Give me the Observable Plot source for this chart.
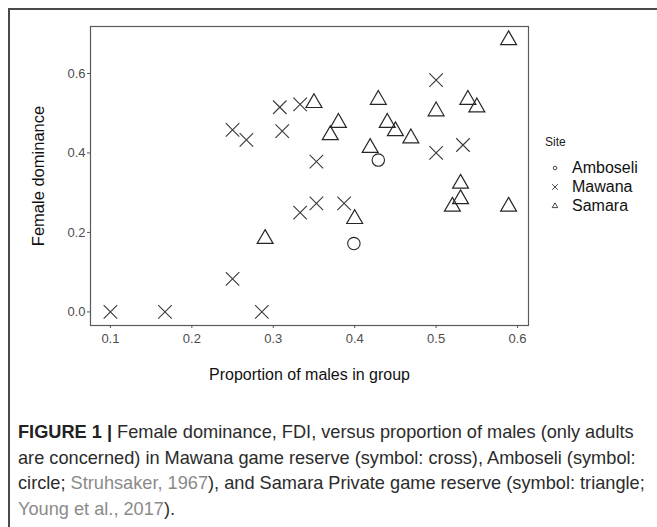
<!DOCTYPE html>
<html><head><meta charset="utf-8">
<script src="https://cdn.jsdelivr.net/npm/d3@7"></script>
<script src="https://cdn.jsdelivr.net/npm/@observablehq/plot@0.6"></script>
<style>
body{margin:0;background:#fff;font-family:"Liberation Sans",Arial,sans-serif;}
#frame{position:absolute;left:8px;top:8px;width:720px;height:600px;border-left:2px solid #4a4a4a;border-top:2px solid #4a4a4a;box-sizing:border-box;}
#chart{position:absolute;left:0;top:0;}
#legend{position:absolute;left:545px;top:135px;font-family:Arial,"Liberation Sans",sans-serif;}
#legend .title{font-size:12px;color:#222;margin-bottom:9px;}
#legend .item{display:flex;align-items:center;height:19px;font-size:16px;color:#111;}
#legend svg{margin-left:5px;margin-right:12px;}
#caption{position:absolute;left:18px;top:420px;font-size:18.2px;line-height:25.5px;color:#2b2b2b;white-space:nowrap;font-family:"Liberation Sans",Arial,sans-serif;}
#caption b{color:#222;}
#caption .ref{color:#8a8a8a;}
</style>
</head><body>
<div id="frame"></div>
<div id="chart"></div>
<div id="legend"></div>
<div id="caption"></div>
<script>
// Data
const mawanaX = [0.100, 0.167, 0.286, 0.250, 0.250, 0.267, 0.308, 0.311, 0.333, 0.353, 0.333, 0.353, 0.387, 0.500, 0.500, 0.533];
const mawanaY = [0.000, 0.000, 0.000, 0.083, 0.458, 0.433, 0.515, 0.455, 0.522, 0.378, 0.250, 0.273, 0.273, 0.583, 0.400, 0.420];
const amboseliX = [0.429, 0.399];
const amboseliY = [0.382, 0.172];
const samaraX = [0.350, 0.370, 0.380, 0.429, 0.440, 0.450, 0.469, 0.419, 0.500, 0.539, 0.550, 0.589, 0.530, 0.530, 0.520, 0.589, 0.400, 0.290];
const samaraY = [0.526, 0.445, 0.476, 0.534, 0.476, 0.455, 0.437, 0.413, 0.505, 0.534, 0.515, 0.684, 0.323, 0.284, 0.265, 0.265, 0.234, 0.184];
const sites = ["Amboseli", "Mawana", "Samara"];
const xTicks = [0.1, 0.2, 0.3, 0.4, 0.5, 0.6];
const yTicks = [0.0, 0.2, 0.4, 0.6];
const xLabel = "Proportion of males in group";
const yLabel = "Female dominance";

const toRows = (xs, ys, site) => xs.map((x, i) => ({x, y: ys[i], site}));
const mawana = toRows(mawanaX, mawanaY, "Mawana");
const amboseli = toRows(amboseliX, amboseliY, "Amboseli");
const samara = toRows(samaraX, samaraY, "Samara");
const all = [...mawana, ...amboseli, ...samara];

// ggplot-style 5% expansion
const xe = d3.extent(all, d => d.x), ye = d3.extent(all, d => d.y);
const xPad = (xe[1] - xe[0]) * 0.05, yPad = (ye[1] - ye[0]) * 0.05;

const ink = "#262626";
const plot = Plot.plot({
  width: 540,
  height: 392,
  marginLeft: 90,
  marginTop: 26,
  marginRight: 12,
  marginBottom: 67,
  style: {fontFamily: "Arial, 'Liberation Sans', sans-serif", fontSize: "13px", background: "transparent"},
  x: {domain: [xe[0] - xPad, xe[1] + xPad]},
  y: {domain: [ye[0] - yPad, ye[1] + yPad]},
  marks: [
    Plot.frame({stroke: "#5a5a5a", strokeWidth: 1.2}),
    Plot.axisX({ticks: xTicks, tickFormat: d3.format(".1f"), tickSize: 3, tickPadding: 5, stroke: "#555",
      color: "#4d4d4d", label: xLabel, labelAnchor: "center", labelOffset: 54, labelArrow: "none"}),
    Plot.axisY({ticks: yTicks, tickFormat: d3.format(".1f"), tickSize: 3, tickPadding: 2, stroke: "#555",
      color: "#4d4d4d", label: yLabel, labelAnchor: "center", labelOffset: 58, labelArrow: "none"}),
    Plot.dot(amboseli, {x: "x", y: "y", symbol: "circle", r: 6.2, stroke: ink, strokeWidth: 1.1, fill: "none"}),
    Plot.dot(mawana, {x: "x", y: "y", symbol: "times", r: 6.2, stroke: "#3a3a3a", strokeWidth: 1.1}),
    Plot.dot(samara, {x: "x", y: "y", symbol: "triangle2", r: 7.6, stroke: ink, strokeWidth: 1.2, fill: "none"})
  ]
});
const sel = d3.select(plot);
sel.selectAll("g[aria-label='x-axis tick label'], g[aria-label='y-axis tick label']")
  .attr("font-size", 13).attr("fill", "#4d4d4d");
sel.selectAll("g[aria-label='x-axis label'] text, g[aria-label='x-axis label']").attr("fill", "#111").attr("font-size", 16);
sel.selectAll("g[aria-label='y-axis label'] text, g[aria-label='y-axis label']").attr("fill", "#111").attr("font-size", 16.5);
document.getElementById("chart").appendChild(plot);

// Legend
const symbolOf = {Amboseli: d3.symbolCircle, Mawana: d3.symbolTimes, Samara: d3.symbolTriangle2};
const sizeOf = {Amboseli: 10, Mawana: 22, Samara: 22};
const leg = d3.select("#legend");
leg.append("div").attr("class", "title").text("Site");
sites.forEach(s => {
  const it = leg.append("div").attr("class", "item");
  const sv = it.append("svg").attr("width", 10).attr("height", 10);
  sv.append("path").attr("transform", "translate(5,5)")
    .attr("d", d3.symbol(symbolOf[s], sizeOf[s])())
    .attr("fill", "none").attr("stroke", "#333").attr("stroke-width", 0.9);
  it.append("span").text(s);
});

// Caption
document.getElementById("caption").innerHTML =
  "<b>FIGURE 1 |</b> Female dominance, FDI, versus proportion of males (only adults<br>" +
  "are concerned) in Mawana game reserve (symbol: cross), Amboseli (symbol:<br>" +
  "circle; <span class='ref'>Struhsaker, 1967</span>), and Samara Private game reserve (symbol: triangle;<br>" +
  "<span class='ref'>Young et al., 2017</span>).";
</script>
</body></html>
